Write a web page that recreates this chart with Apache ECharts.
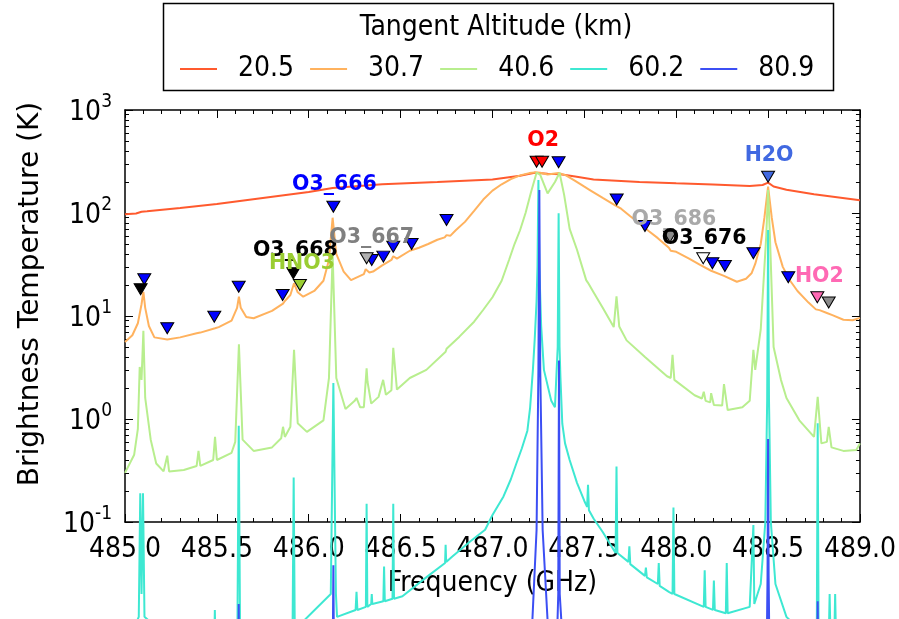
<!DOCTYPE html>
<html>
<head>
<meta charset="utf-8">
<script src="https://cdn.jsdelivr.net/npm/echarts@6/dist/echarts.min.js"></script>
<style>
  html, body { margin: 0; padding: 0; background: #fff; }
  #chart { width: 899px; height: 619px; }
</style>
</head>
<body>
<div id="chart"></div>
<script>
// Limb-sounding brightness temperature spectra around the 487 GHz O2 line

const FONT = "'DejaVu Sans Condensed', 'DejaVu Sans', sans-serif";
const FONT_REG = "'DejaVu Sans', sans-serif";
const FONT_BOLD = "'DejaVu Sans', sans-serif";

// ---- tangent altitudes (km) ----
const altitudes = ['20.5', '30.7', '40.6', '60.2', '80.9'];

// ---- tick labels ----
const freqTicks = ['485.0', '485.5', '486.0', '486.5', '487.0', '487.5', '488.0', '488.5', '489.0'];
const tbDecades = [-1, 0, 1, 2, 3];

// ---- 20.5 km ----
const freq20 = [485.00, 485.06, 485.09, 485.10, 485.12, 485.30, 485.50, 485.75, 486.00, 486.13,
  486.40, 486.70, 487.00, 487.15, 487.23, 487.30, 487.37, 487.45, 487.55, 487.80, 488.00, 488.20,
  488.40, 488.47, 488.50, 488.53, 488.60, 488.75, 489.00];
const tb20 = [97, 99, 103, 106, 104, 112, 122, 140, 160, 175,
  190, 200, 212, 230, 246, 240, 238, 226, 212, 200, 194, 189,
  183, 187, 197, 181, 168, 152, 133];

// ---- 30.7 km ----
const freq30 = [485.00, 485.04, 485.07, 485.09, 485.10, 485.11, 485.13, 485.16, 485.23, 485.30,
  485.39, 485.40, 485.41, 485.49, 485.50, 485.51, 485.58, 485.61, 485.62, 485.63, 485.66, 485.70,
  485.80, 485.86, 485.87, 485.90, 485.92, 485.94, 485.97, 486.03, 486.08, 486.11, 486.13, 486.15,
  486.19, 486.23, 486.30, 486.31, 486.33, 486.35, 486.40, 486.41, 486.45, 486.46, 486.48, 486.55,
  486.60, 486.65, 486.70, 486.74, 486.75, 486.77, 486.80, 486.85, 486.90, 486.95, 487.00, 487.05,
  487.10, 487.15, 487.20, 487.23, 487.26, 487.30, 487.36, 487.40, 487.45, 487.50, 487.53, 487.60,
  487.67, 487.68, 487.70, 487.75, 487.80, 487.85, 487.90, 487.96, 487.97, 488.00, 488.07, 488.13,
  488.19, 488.20, 488.26, 488.27, 488.33, 488.38, 488.41, 488.43, 488.46, 488.48, 488.50, 488.52,
  488.54, 488.58, 488.62, 488.66, 488.72, 488.76, 488.77, 488.78, 488.82, 488.83, 488.85, 488.91,
  488.96, 489.00];
const tb30 = [5.6, 6.5, 8.5, 13, 17.2, 12, 8.0, 6.2, 5.9, 6.2,
  6.8, 7.0, 6.9, 7.6, 7.9, 7.8, 9.0, 12, 15.4, 12, 9.8, 9.5,
  11.2, 13.2, 14.0, 16, 20.8, 17, 15.4, 17.5, 22, 35, 90, 40,
  27, 22.3, 25.5, 28.5, 26.5, 27, 31, 32, 35, 38, 36, 43,
  46, 50, 55, 58, 61, 60, 68, 82, 105, 135, 165, 190,
  213, 232, 244, 248, 246, 236, 245, 232, 205, 180, 167, 140,
  118, 115, 110, 93, 79, 67, 57, 46, 43, 42, 36, 31.3,
  27.5, 27, 24.5, 24, 21.5, 23, 26, 32, 50, 90, 180, 90,
  52, 30, 22, 17.5, 13.5, 11.6, 11.9, 11.4, 10.7, 10.8, 10.2, 9.2,
  9.1, 9.6];

// ---- 40.6 km ----
const freq40 = [485.00, 485.05, 485.07, 485.08, 485.09, 485.10, 485.11, 485.14, 485.17, 485.21,
  485.23, 485.24, 485.32, 485.39, 485.40, 485.41, 485.48, 485.49, 485.50, 485.58, 485.60, 485.62,
  485.64, 485.70, 485.80, 485.85, 485.86, 485.87, 485.90, 485.92, 485.94, 485.99, 486.08, 486.11,
  486.13, 486.15, 486.20, 486.25, 486.26, 486.28, 486.30, 486.315, 486.32, 486.34, 486.38, 486.405,
  486.42, 486.45, 486.46, 486.48, 486.55, 486.64, 486.745, 486.75, 486.82, 486.90, 486.95, 487.00,
  487.05, 487.09, 487.12, 487.15, 487.18, 487.21, 487.24, 487.26, 487.30, 487.34, 487.365, 487.39,
  487.42, 487.46, 487.51, 487.52, 487.55, 487.60, 487.66, 487.675, 487.69, 487.73, 487.74, 487.83,
  487.84, 487.95, 487.97, 487.98, 487.99, 488.10, 488.14, 488.15, 488.16, 488.185, 488.19, 488.205,
  488.25, 488.26, 488.28, 488.36, 488.40, 488.42, 488.43, 488.46, 488.49, 488.50, 488.51, 488.53,
  488.57, 488.60, 488.61, 488.67, 488.75, 488.77, 488.79, 488.82, 488.83, 488.845, 488.91, 488.98,
  489.00];
const tb40 = [0.30, 0.45, 0.8, 3.2, 2.4, 7.2, 1.6, 0.63, 0.37, 0.31,
  0.44, 0.31, 0.32, 0.35, 0.49, 0.35, 0.40, 0.67, 0.40, 0.47, 0.6, 5.3,
  0.63, 0.49, 0.53, 0.65, 0.84, 0.67, 0.84, 4.7, 0.91, 0.75, 0.97, 2.5,
  40, 2.5, 1.25, 1.5, 1.6, 1.3, 1.3, 3.1, 2.3, 1.41, 1.64, 2.4,
  1.72, 1.9, 4.9, 1.93, 2.5, 3.0, 4.5, 4.8, 6.3, 8.8, 11.5, 15.2,
  22, 35, 50, 68, 100, 160, 246, 235, 155, 200, 246, 150,
  70, 44, 22.3, 21, 17, 12, 7.8, 15.5, 7.9, 5.8, 6.0, 4.0,
  4.1, 2.6, 2.5, 4.2, 2.4, 1.7, 1.58, 1.84, 1.5, 1.45, 1.78, 1.37,
  1.35, 2.18, 1.22, 1.3, 1.5, 4.7, 3.0, 7.4, 60, 167, 60, 5.0,
  2.4, 1.6, 1.65, 0.97, 0.67, 1.64, 0.58, 0.6, 0.84, 0.53, 0.49, 0.5,
  0.58];

// ---- 60.2 km ----
const freq60 = [485.000, 485.075, 485.083, 485.090, 485.098, 485.106, 485.300, 485.486, 485.489, 485.492,
  485.612, 485.619, 485.626, 485.912, 485.918, 485.924, 486.120, 486.134, 486.148, 486.154,
  486.255, 486.260, 486.265, 486.311, 486.315, 486.319, 486.340, 486.343, 486.346, 486.406,
  486.410, 486.414, 486.456, 486.460, 486.464, 486.510, 486.650, 486.742, 486.745, 486.748,
  486.780, 486.880, 486.960, 487.000, 487.060, 487.100, 487.130, 487.160, 487.190, 487.205,
  487.220, 487.230, 487.240, 487.245, 487.250, 487.255, 487.265, 487.280, 487.320, 487.340,
  487.355, 487.360, 487.365, 487.370, 487.380, 487.395, 487.420, 487.460, 487.500, 487.515,
  487.520, 487.525, 487.550, 487.600, 487.670, 487.675, 487.680, 487.740, 487.745, 487.750,
  487.830, 487.835, 487.840, 487.900, 487.905, 487.910, 487.960, 487.980, 487.985, 487.990,
  488.150, 488.155, 488.160, 488.200, 488.205, 488.210, 488.270, 488.275, 488.280, 488.400,
  488.420, 488.425, 488.460, 488.485, 488.495, 488.500, 488.505, 488.515, 488.540, 488.600,
  488.700, 488.765, 488.770, 488.775, 488.830, 488.835, 488.840, 488.860, 488.865, 488.870,
  489.000];
const tb60 = [0.006, 0.012, 0.19, 0.02, 0.19, 0.012, 0.006, 0.007, 0.014, 0.007,
  0.01, 0.86, 0.01, 0.009, 0.27, 0.009, 0.02, 2.23, 0.02, 0.012,
  0.014, 0.021, 0.014, 0.015, 0.15, 0.015, 0.016, 0.02, 0.016, 0.017,
  0.037, 0.017, 0.018, 0.15, 0.018, 0.019, 0.030, 0.040, 0.06, 0.041,
  0.046, 0.065, 0.084, 0.117, 0.177, 0.26, 0.37, 0.52, 0.77, 1.3,
  3.0, 6, 14, 30, 209, 30, 8, 3, 1.5, 1.3,
  5, 99.5, 5, 2.5, 0.9, 0.58, 0.4, 0.24, 0.16, 0.14,
  0.23, 0.13, 0.108, 0.08, 0.05, 0.345, 0.05, 0.041, 0.058, 0.039,
  0.030, 0.036, 0.029, 0.025, 0.040, 0.024, 0.021, 0.02, 0.138, 0.02,
  0.015, 0.034, 0.015, 0.014, 0.027, 0.014, 0.013, 0.04, 0.013, 0.015,
  0.0935, 0.016, 0.025, 0.1, 1.5, 68.5, 1.5, 0.1, 0.025, 0.012,
  0.008, 0.008, 0.91, 0.008, 0.007, 0.02, 0.007, 0.007, 0.02, 0.007,
  0.006];

// ---- 80.9 km ----
const freq80 = [485.000, 485.615, 485.619, 485.623, 486.128, 486.134, 486.140, 487.150, 487.217, 487.240,
  487.250, 487.255, 487.260, 487.273, 487.300, 487.345, 487.358, 487.362, 487.366, 487.400,
  488.490, 488.497, 488.500, 488.503, 488.510, 488.765, 488.770, 488.775, 489.000];
const tb80 = [0.001, 0.001, 0.016, 0.001, 0.001, 0.038, 0.001, 0.002, 0.011, 0.084,
  3, 167, 3, 0.084, 0.011, 0.003, 0.02, 3.7, 0.02, 0.002,
  0.002, 0.03, 0.64, 0.03, 0.002, 0.001, 0.017, 0.001, 0.001];

// ---- line identifications (marker frequency, marker height in K, species) ----
const markerFreq = [
  485.105, 485.23, 485.486, 485.619, 485.858, 486.134, 486.343, 486.406, 486.46, 486.56,
  486.75, 487.36, 487.676, 487.83, 488.197, 488.265, 488.42, 488.61,
  485.085, 485.916,
  485.952,
  486.315,
  487.24, 487.27,
  487.966, 488.83,
  488.147,
  488.50,
  488.768];
const markerTb = [
  22.7, 7.6, 9.85, 19.2, 16.0, 115, 35.0, 37.7, 47.1, 50.0,
  85.5, 311, 135, 74.8, 32.5, 30.6, 40.6, 23.8,
  18.2, 26.0,
  20.0,
  36.3,
  315, 315,
  58.9, 13.5,
  36.3,
  225,
  15.2];
const markerSpecies = [
  'O3_666', 'O3_666', 'O3_666', 'O3_666', 'O3_666', 'O3_666', 'O3_666', 'O3_666', 'O3_666', 'O3_666',
  'O3_666', 'O3_666', 'O3_666', 'O3_666', 'O3_666', 'O3_666', 'O3_666', 'O3_666',
  'O3_668', 'O3_668',
  'HNO3',
  'O3_667',
  'O2', 'O2',
  'O3_686', 'O3_686',
  'O3_676',
  'H2O',
  'HO2'];
const speciesOrder = ['O3_666', 'O3_668', 'HNO3', 'O3_667', 'O2', 'O3_686', 'O3_676', 'H2O', 'HO2'];
const labelAtFreq = [486.134, 485.916, 485.952, 486.315, 487.27, 487.966, 488.147, 488.50, 488.768];

// ---- styles ----
const lineColors = ['#ff5a2e', '#ffb25e', '#b8ee8e', '#3ee8d2', '#3c4ff4'];
const speciesStyle = {
  'O3_666': { fill: '#0000ff', text: '#0000ff', dx: 1, dy: -22 },
  'O3_668': { fill: '#000000', text: '#000000', dx: 2, dy: -23 },
  'HNO3':   { fill: '#9acd32', text: '#9acd32', dx: 2, dy: -21 },
  'O3_667': { fill: '#b0b0b0', text: '#808080', dx: 5, dy: -21 },
  'O2':     { fill: '#ff0000', text: '#ff0000', dx: 1, dy: -21 },
  'O3_686': { fill: '#8a8a8a', text: '#a9a9a9', dx: 4, dy: -17 },
  'O3_676': { fill: '#ffffff', text: '#000000', dx: 1, dy: -20 },
  'H2O':    { fill: '#4169e1', text: '#4169e1', dx: 1, dy: -21 },
  'HO2':    { fill: '#ff69b4', text: '#ff69b4', dx: 2, dy: -21 }
};

const pairs = (f, v) => f.map((x, i) => [x, v[i]]);
const spectra = [[freq20, tb20], [freq30, tb30], [freq40, tb40], [freq60, tb60], [freq80, tb80]];

// minor ticks of the log axis, expressed in log10 units
const minorLogTicks = [];
for (let d = -1; d < 3; d++) {
  for (let k = 2; k <= 9; k++) minorLogTicks.push(d + Math.log10(k));
}

const lineSeries = altitudes.map((name, i) => ({
  name: name,
  type: 'line',
  xAxisIndex: 0,
  yAxisIndex: 0,
  data: pairs(spectra[i][0], spectra[i][1]),
  showSymbol: false,
  symbol: 'none',
  clip: false,
  silent: true,
  lineStyle: { color: lineColors[i], width: 2 },
  itemStyle: { color: lineColors[i] },
  z: 2 + i
}));

const markerSeries = speciesOrder.map((sp, si) => {
  const st = speciesStyle[sp];
  const data = [];
  markerFreq.forEach((f, i) => {
    if (markerSpecies[i] !== sp) return;
    const item = { value: [f, markerTb[i]] };
    if (f === labelAtFreq[si]) {
      item.label = {
        show: true,
        position: 'inside',
        offset: [st.dx, st.dy],
        formatter: sp,
        color: st.text,
        fontFamily: FONT_BOLD,
        fontWeight: 'bold',
        fontSize: 20.5
      };
    }
    data.push(item);
  });
  return {
    name: sp,
    type: 'scatter',
    xAxisIndex: 0,
    yAxisIndex: 0,
    data: data,
    symbol: 'triangle',
    symbolRotate: 180,
    symbolSize: [13, 11],
    clip: false,
    silent: true,
    itemStyle: { color: st.fill, borderColor: '#000', borderWidth: 1, opacity: 1 },
    label: { show: false },
    z: 10 + si
  };
});

const axisLineStyle = { color: '#000', width: 1.5 };
const tickStyle = { color: '#000', width: 1 };

const option = {
  animation: false,
  backgroundColor: '#fff',
  grid: { left: 125, right: 39, top: 110, bottom: 97, containLabel: false },
  legend: {
    data: altitudes,
    left: 175,
    top: 50,
    icon: 'rect',
    itemWidth: 37,
    itemHeight: 2,
    itemGap: 16,
    selectedMode: false,
    textStyle: { fontFamily: FONT, fontSize: 28, color: '#000', padding: [0, 0, 0, 16] }
  },
  graphic: [
    {
      type: 'rect',
      shape: { x: 163.5, y: 3.5, width: 670, height: 87 },
      style: { fill: 'none', stroke: '#000', lineWidth: 1.5 },
      silent: true
    },
    {
      type: 'text',
      x: 496,
      y: 28,
      style: {
        text: 'Tangent Altitude (km)',
        fontFamily: FONT,
        fontSize: 28,
        fill: '#000',
        align: 'center',
        verticalAlign: 'middle'
      },
      silent: true
    }
  ],
  xAxis: [
    {
      type: 'value',
      min: 485,
      max: 489,
      interval: 0.5,
      position: 'bottom',
      name: 'Frequency (GHz)',
      nameLocation: 'middle',
      nameGap: 48,
      nameTextStyle: { fontFamily: FONT, fontSize: 28, color: '#000' },
      axisLine: { show: true, onZero: false, lineStyle: axisLineStyle },
      axisTick: { show: true, inside: true, length: 8, lineStyle: tickStyle },
      minorTick: { show: true, splitNumber: 5, length: 4, lineStyle: tickStyle },
      axisLabel: {
        margin: 14,
        fontFamily: FONT,
        fontSize: 28,
        color: '#000',
        showMinLabel: true,
        showMaxLabel: true,
        formatter: (v) => freqTicks[Math.round((v - 485) / 0.5)]
      },
      splitLine: { show: false }
    },
    {
      type: 'value',
      min: 485,
      max: 489,
      interval: 0.5,
      position: 'top',
      axisLine: { show: true, onZero: false, lineStyle: axisLineStyle },
      axisTick: { show: true, inside: true, length: 8, lineStyle: tickStyle },
      minorTick: { show: true, splitNumber: 5, length: 4, lineStyle: tickStyle },
      axisLabel: { show: false },
      splitLine: { show: false }
    }
  ],
  yAxis: [
    {
      type: 'log',
      logBase: 10,
      min: 0.1,
      max: 1000,
      position: 'left',
      name: 'Brightness Temperature (K)',
      nameLocation: 'middle',
      nameGap: 80,
      nameRotate: 90,
      nameTextStyle: { fontFamily: FONT_REG, fontSize: 28, color: '#000', padding: [0, 0, 0, 44] },
      axisLine: { show: true, onZero: false, lineStyle: axisLineStyle },
      axisTick: { show: true, inside: true, length: 8, lineStyle: tickStyle },
      axisLabel: {
        margin: 13,
        formatter: (v) => {
          const e = tbDecades.find((d) => Math.abs(Math.log10(v) - d) < 1e-6);
          return '{b|10}{s|' + e + '}';
        },
        rich: {
          b: { fontFamily: FONT, fontSize: 28, color: '#000', lineHeight: 34, verticalAlign: 'bottom' },
          s: { fontFamily: FONT, fontSize: 19, color: '#000', lineHeight: 14, verticalAlign: 'top' }
        }
      },
      splitLine: { show: false }
    },
    {
      type: 'log',
      logBase: 10,
      min: 0.1,
      max: 1000,
      position: 'right',
      axisLine: { show: true, onZero: false, lineStyle: axisLineStyle },
      axisTick: { show: true, inside: true, length: 8, lineStyle: tickStyle },
      axisLabel: { show: false },
      splitLine: { show: false }
    },
    {
      type: 'value',
      min: -1,
      max: 3,
      position: 'left',
      axisLine: { show: false },
      axisTick: { show: true, inside: true, length: 4, lineStyle: tickStyle, customValues: minorLogTicks },
      axisLabel: { show: false },
      splitLine: { show: false }
    },
    {
      type: 'value',
      min: -1,
      max: 3,
      position: 'right',
      axisLine: { show: false },
      axisTick: { show: true, inside: true, length: 4, lineStyle: tickStyle, customValues: minorLogTicks },
      axisLabel: { show: false },
      splitLine: { show: false }
    }
  ],
  series: lineSeries.concat(markerSeries)
};

const chart = echarts.init(document.getElementById('chart'), null, { renderer: 'canvas' });
chart.setOption(option);
</script>
</body>
</html>
